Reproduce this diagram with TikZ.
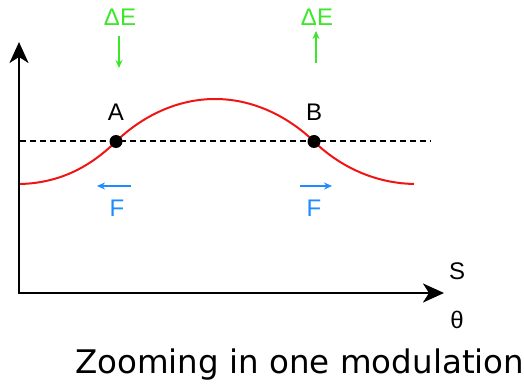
\documentclass[tikz,border=0pt]{standalone}
\usepackage{fontspec}
\setmainfont{Liberation Sans}
\newfontfamily\capfont{DejaVu Sans}
\usetikzlibrary{arrows.meta, positioning, calc}

\definecolor{curvered}{RGB}{240,20,20}
\definecolor{egreen}{RGB}{60,230,40}
\definecolor{fblue}{RGB}{30,140,255}

\begin{document}
\begin{tikzpicture}[
  x=1pt, y=-1pt, >=Stealth,
  axis/.style={line width=2.2pt, -{Stealth[length=21pt, width=19pt, inset=6pt]}},
  level/.style={line width=2pt, dash pattern=on 6pt off 4pt},
  wave/.style={curvered, line width=2pt},
  pt/.style={circle, fill=black, inner sep=0pt, minimum size=13pt},
  lbl/.style={font=\fontsize{24}{26}\selectfont, inner sep=0pt},
  earrow/.style={egreen, line width=1.2pt, -{Stealth[length=8pt, width=7pt]}},
  farrow/.style={fblue, line width=1.2pt, -{Stealth[length=8pt, width=7pt]}}]
  \useasboundingbox (0,0) rectangle (524,387);
  % axes
  \coordinate (origin) at (19,293);
  \coordinate (ytop) at (19,42);
  \coordinate (xend) at (444,293);
  \draw[axis] ($(origin)+(0,1.1)$) -- (ytop);
  \draw[axis] ($(origin)-(1.1,0)$) -- (xend);
  \node[lbl] (S) at (457,271) {S};
  \node[lbl] (theta) at (457,320) {θ};
  % mean level and modulation
  \coordinate (lvlstart) at (20,141.5);
  \coordinate (lvlend) at (431,141.5);
  \draw[level] (lvlstart) -- (lvlend);
  \coordinate (wl) at (20,184);
  \coordinate (wtop) at (215,99);
  \coordinate (wr) at (414,184);
  \draw[wave] (wl) .. controls (65,183) and (95,162) .. (116,141.5)
    .. controls (137,121) and (172,99) .. (wtop)
    .. controls (258,99) and (293,121) .. (314,141.5)
    .. controls (335,162) and (369,183) .. (wr);
  \node[pt] (A) at (116,141.5) {};
  \node[pt] (B) at (314,141.5) {};
  \node[lbl, above=14pt of A] (Alab) {A};
  \node[lbl, above=14pt of B] (Blab) {B};
  % energy exchange
  \node[lbl, egreen] (dEa) at (120,17) {ΔE};
  \node[lbl, egreen] (dEb) at (317,17) {ΔE};
  \coordinate (ea1) at (119,36);
  \coordinate (ea2) at (119,68);
  \coordinate (eb1) at (316,63);
  \coordinate (eb2) at (316,31);
  \draw[earrow] (ea1) -- (ea2);
  \draw[earrow] (eb1) -- (eb2);
  % forces
  \coordinate (fa1) at (131,186);
  \coordinate (fa2) at (97,186);
  \coordinate (fb1) at (300,186);
  \coordinate (fb2) at (332,186);
  \draw[farrow] (fa1) -- (fa2);
  \draw[farrow] (fb1) -- (fb2);
  \node[lbl, fblue] (Fa) at (117,208) {F};
  \node[lbl, fblue] (Fb) at (314,208) {F};
  % caption
  \node[anchor=base west, inner sep=0pt, font=\capfont\fontsize{32.5}{38}\selectfont]
    (cap) at (75,373) {Zooming in one modulation};
\end{tikzpicture}
\end{document}
